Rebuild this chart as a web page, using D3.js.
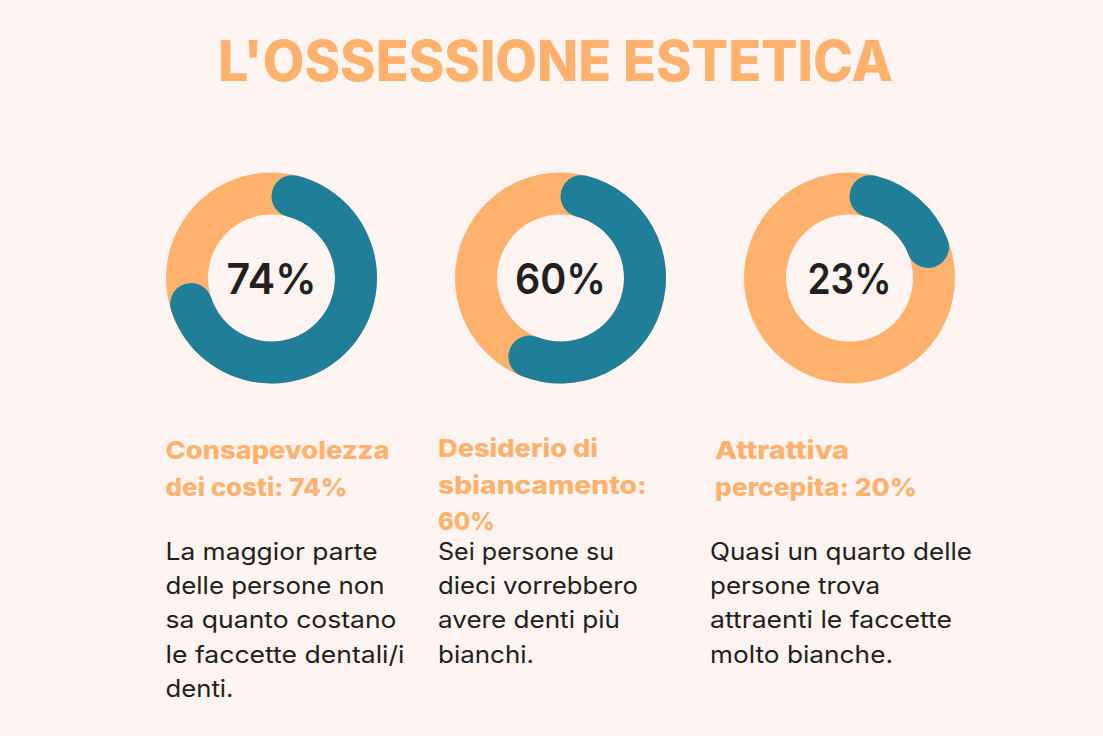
<!DOCTYPE html>
<html lang="it">
<head>
<meta charset="UTF-8">
<title>L'ossessione estetica</title>
<script src="https://d3js.org/d3.v7.min.js"></script>
<style>
    html, body { margin: 0; padding: 0; background: #fef4f1; }
    svg { display: block; font-family: "Inter", "Noto Sans", sans-serif; }
</style>
</head>
<body>
<div id="chart"></div>
<script>
const title = "L'OSSESSIONE ESTETICA";
const percents = [74, 60, 23];
const centers = [271.5, 560.5, 849.5];
const headings = [
    ["Consapevolezza", "dei costi: 74%"],
    ["Desiderio di", "sbiancamento:", "60%"],
    ["Attrattiva", "percepita: 20%"]
];
const bodies = [
    ["La maggior parte", "delle persone non", "sa quanto costano", "le faccette dentali/i", "denti."],
    ["Sei persone su", "dieci vorrebbero", "avere denti più", "bianchi."],
    ["Quasi un quarto delle", "persone trova", "attraenti le faccette", "molto bianche."]
];
const headingPos = [[165.5, 459], [438, 457], [715, 459]];
const bodyPos = [[165.5, 560], [438, 560], [710, 560]];
// the reference font is wider than anything installed, so lines are fitted to measured widths
const percentWidths = [90, 91, 84];
const headingWidths = [[224, 182], [160, 209, 57], [134, 202]];
const bodyWidths = [[212, 219, 231, 239, 68], [176, 200, 182, 96], [262, 170, 242, 183]];

const orange = "#ffb26e", teal = "#1f7f99", ink = "#231f20";
const svg = d3.select("#chart").append("svg").attr("width", 1103).attr("height", 736);

function fitted(sel, width) {
    return sel.attr("textLength", width).attr("lengthAdjust", "spacingAndGlyphs");
}

fitted(svg.append("text"), 675).attr("x", 218).attr("y", 81)
    .attr("font-size", 56).attr("font-weight", 800).attr("fill", orange).text(title);

const rOuter = 105.5, rInner = 63.5;
const angle = d3.scaleLinear().domain([0, 100]).range([0, 2 * Math.PI]);
const ring = d3.arc().innerRadius(rInner).outerRadius(rOuter);
const progress = d3.arc().innerRadius(rInner).outerRadius(rOuter).cornerRadius((rOuter - rInner) / 2);

percents.forEach(function(p, i) {
    const g = svg.append("g").attr("transform", "translate(" + centers[i] + ",278)");
    g.append("path").attr("fill", orange).attr("d", ring({ startAngle: 0, endAngle: 2 * Math.PI }));
    g.append("path").attr("fill", teal).attr("d", progress({ startAngle: 0, endAngle: angle(p) }));
    fitted(g.append("text"), percentWidths[i]).attr("x", -percentWidths[i] / 2).attr("y", 16)
        .attr("font-size", 43).attr("font-weight", 600).attr("fill", ink).text(p + "%");

    headings[i].forEach(function(line, k) {
        fitted(svg.append("text"), headingWidths[i][k])
            .attr("x", headingPos[i][0]).attr("y", headingPos[i][1] + k * 36.5)
            .attr("font-size", 25).attr("font-weight", 800).attr("fill", orange).text(line);
    });
    bodies[i].forEach(function(line, k) {
        fitted(svg.append("text"), bodyWidths[i][k])
            .attr("x", bodyPos[i][0]).attr("y", bodyPos[i][1] + k * 34.2)
            .attr("font-size", 24).attr("fill", ink).text(line);
    });
});
</script>
</body>
</html>
